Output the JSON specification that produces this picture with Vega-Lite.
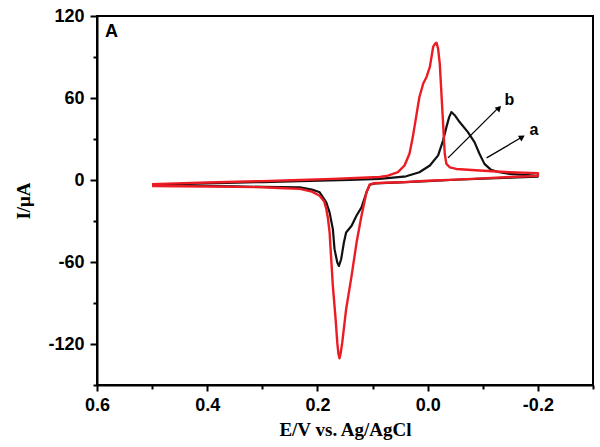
{
  "$schema": "https://vega.github.io/schema/vega-lite/v6.json",
  "width": 496,
  "height": 369,
  "autosize": {"type": "none"},
  "padding": {"left": 97, "top": 16, "right": 7, "bottom": 62},
  "background": "white",
  "config": {
    "view": {"stroke": "black", "strokeWidth": 2},
    "axis": {
      "grid": false,
      "domainColor": "black",
      "domainWidth": 2,
      "tickColor": "black",
      "tickWidth": 2,
      "labelFont": "Liberation Sans",
      "labelFontWeight": "bold",
      "labelFontSize": 18,
      "labelColor": "black",
      "labelFlush": false,
      "titleFont": "Liberation Serif",
      "titleFontWeight": "bold",
      "titleFontSize": 19,
      "titleColor": "black"
    }
  },
  "datasets": {
    "a": [
      {"i": 1, "E": 0.5, "I": -4}, {"i": 2, "E": 0.45, "I": -4.2}, {"i": 3, "E": 0.4, "I": -4.4}, {"i": 4, "E": 0.35, "I": -4.7}, {"i": 5, "E": 0.3, "I": -5}, {"i": 6, "E": 0.232, "I": -5.4}, {"i": 7, "E": 0.21, "I": -7}, {"i": 8, "E": 0.196, "I": -9}, {"i": 9, "E": 0.184, "I": -16.4}, {"i": 10, "E": 0.178, "I": -23.7}, {"i": 11, "E": 0.172, "I": -36}, {"i": 12, "E": 0.169, "I": -50.6}, {"i": 13, "E": 0.164, "I": -60.4}, {"i": 14, "E": 0.161, "I": -62.9}, {"i": 15, "E": 0.157, "I": -58}, {"i": 16, "E": 0.152, "I": -45.7}, {"i": 17, "E": 0.148, "I": -38.4}, {"i": 18, "E": 0.138, "I": -33.5}, {"i": 19, "E": 0.129, "I": -26}, {"i": 20, "E": 0.12, "I": -20}, {"i": 21, "E": 0.111, "I": -9}, {"i": 22, "E": 0.105, "I": -3.5}, {"i": 23, "E": 0.095, "I": -2.5}, {"i": 24, "E": 0.05, "I": -1.8}, {"i": 25, "E": 0.0, "I": -0.8}, {"i": 26, "E": -0.05, "I": 0.2}, {"i": 27, "E": -0.1, "I": 1}, {"i": 28, "E": -0.15, "I": 1.8}, {"i": 29, "E": -0.2, "I": 2.5},
      {"i": 30, "E": -0.2, "I": 3}, {"i": 31, "E": -0.149, "I": 4.5}, {"i": 32, "E": -0.13, "I": 5.7}, {"i": 33, "E": -0.115, "I": 7.4}, {"i": 34, "E": -0.103, "I": 11.8}, {"i": 35, "E": -0.094, "I": 19.2}, {"i": 36, "E": -0.085, "I": 27.7}, {"i": 37, "E": -0.073, "I": 35}, {"i": 38, "E": -0.058, "I": 42.4}, {"i": 39, "E": -0.05, "I": 47}, {"i": 40, "E": -0.043, "I": 49.7}, {"i": 41, "E": -0.039, "I": 46}, {"i": 42, "E": -0.034, "I": 38.7}, {"i": 43, "E": -0.028, "I": 29}, {"i": 44, "E": -0.019, "I": 18}, {"i": 45, "E": -0.004, "I": 10.6}, {"i": 46, "E": 0.015, "I": 5.7}, {"i": 47, "E": 0.039, "I": 2.7}, {"i": 48, "E": 0.087, "I": 0.8}, {"i": 49, "E": 0.141, "I": 0}, {"i": 50, "E": 0.232, "I": -0.8}, {"i": 51, "E": 0.3, "I": -1.5}, {"i": 52, "E": 0.4, "I": -2.5}, {"i": 53, "E": 0.5, "I": -3.5}
    ],
    "b": [
      {"i": 1, "E": 0.5, "I": -4.5}, {"i": 2, "E": 0.45, "I": -4.6}, {"i": 3, "E": 0.4, "I": -4.8}, {"i": 4, "E": 0.35, "I": -5}, {"i": 5, "E": 0.3, "I": -5.3}, {"i": 6, "E": 0.27, "I": -5.8}, {"i": 7, "E": 0.232, "I": -6.5}, {"i": 8, "E": 0.21, "I": -8.5}, {"i": 9, "E": 0.196, "I": -11.5}, {"i": 10, "E": 0.188, "I": -15.5}, {"i": 11, "E": 0.184, "I": -21}, {"i": 12, "E": 0.181, "I": -28}, {"i": 13, "E": 0.178, "I": -38}, {"i": 14, "E": 0.175, "I": -58}, {"i": 15, "E": 0.172, "I": -77.6}, {"i": 16, "E": 0.167, "I": -102}, {"i": 17, "E": 0.164, "I": -119}, {"i": 18, "E": 0.162, "I": -127}, {"i": 19, "E": 0.16, "I": -130.5}, {"i": 20, "E": 0.158, "I": -127}, {"i": 21, "E": 0.155, "I": -119}, {"i": 22, "E": 0.148, "I": -94.7}, {"i": 23, "E": 0.138, "I": -70}, {"i": 24, "E": 0.129, "I": -45.7}, {"i": 25, "E": 0.12, "I": -26}, {"i": 26, "E": 0.111, "I": -9}, {"i": 27, "E": 0.105, "I": -3.2}, {"i": 28, "E": 0.097, "I": -2.4}, {"i": 29, "E": 0.08, "I": -2}, {"i": 30, "E": 0.05, "I": -1.7}, {"i": 31, "E": 0.0, "I": -0.5}, {"i": 32, "E": -0.05, "I": 0.3}, {"i": 33, "E": -0.1, "I": 1.2}, {"i": 34, "E": -0.15, "I": 2.2}, {"i": 35, "E": -0.2, "I": 3},
      {"i": 36, "E": -0.2, "I": 5}, {"i": 37, "E": -0.149, "I": 5.7}, {"i": 38, "E": -0.094, "I": 6.9}, {"i": 39, "E": -0.052, "I": 8.1}, {"i": 40, "E": -0.04, "I": 9.3}, {"i": 41, "E": -0.034, "I": 11.8}, {"i": 42, "E": -0.031, "I": 19.2}, {"i": 43, "E": -0.027, "I": 48.5}, {"i": 44, "E": -0.022, "I": 85}, {"i": 45, "E": -0.019, "I": 96}, {"i": 46, "E": -0.016, "I": 100.4}, {"i": 47, "E": -0.013, "I": 99.5}, {"i": 48, "E": -0.01, "I": 97.5}, {"i": 49, "E": -0.004, "I": 82.8}, {"i": 50, "E": 0.002, "I": 75.4}, {"i": 51, "E": 0.008, "I": 70.6}, {"i": 52, "E": 0.015, "I": 60.7}, {"i": 53, "E": 0.021, "I": 46}, {"i": 54, "E": 0.027, "I": 31.4}, {"i": 55, "E": 0.033, "I": 19.2}, {"i": 56, "E": 0.042, "I": 10.6}, {"i": 57, "E": 0.054, "I": 5.7}, {"i": 58, "E": 0.072, "I": 3.2}, {"i": 59, "E": 0.087, "I": 2.2}, {"i": 60, "E": 0.12, "I": 1.6}, {"i": 61, "E": 0.172, "I": 0.8}, {"i": 62, "E": 0.232, "I": 0}, {"i": 63, "E": 0.3, "I": -0.8}, {"i": 64, "E": 0.4, "I": -1.8}, {"i": 65, "E": 0.5, "I": -3}
    ],
    "arrows": [
      {"x1": -0.037, "y1": 16.2, "x2": -0.13, "y2": 53.5},
      {"x1": -0.107, "y1": 16.2, "x2": -0.173, "y2": 31.8}
    ],
    "heads": [
      {"x": -0.1295, "y": 52.6, "ang": 45},
      {"x": -0.1715, "y": 31.4, "ang": 59}
    ],
    "labels": [
      {"x": 0.5855, "y": 104.8, "t": "A", "s": 18},
      {"x": -0.1395, "y": 54.6, "t": "b", "s": 16},
      {"x": -0.1848, "y": 32.6, "t": "a", "s": 16}
    ]
  },
  "layer": [
    {
      "data": {"name": "a"},
      "mark": {"type": "line", "color": "#111111", "strokeWidth": 2.2, "strokeJoin": "round"},
      "encoding": {
        "x": {"field": "E", "type": "quantitative",
          "scale": {"domain": [-0.3, 0.6], "reverse": true, "nice": false, "zero": false},
          "axis": {"orient": "bottom", "values": [0.6, 0.4, 0.2, 0, -0.2], "tickSize": 6, "labelPadding": 5,
            "labelExpr": "datum.value < -0.001 ? '-' + format(-datum.value, '.1f') : format(abs(datum.value), '.1f')",
            "title": "E/V vs. Ag/AgCl", "titlePadding": 6}},
        "y": {"field": "I", "type": "quantitative",
          "scale": {"domain": [-150, 120], "nice": false, "zero": false},
          "axis": {"orient": "left", "values": [-120, -60, 0, 60, 120], "tickSize": 7, "labelPadding": 6,
            "labelExpr": "'' + datum.value", "title": "I/μA", "titlePadding": 14}},
        "order": {"field": "i", "type": "quantitative"}
      }
    },
    {
      "data": {"name": "b"},
      "mark": {"type": "line", "color": "#ec1c24", "strokeWidth": 2.4, "strokeJoin": "round"},
      "encoding": {
        "x": {"field": "E", "type": "quantitative",
          "scale": {"domain": [-0.3, 0.6], "reverse": true, "nice": false, "zero": false}, "axis": null},
        "y": {"field": "I", "type": "quantitative",
          "scale": {"domain": [-150, 120], "nice": false, "zero": false}, "axis": null},
        "order": {"field": "i", "type": "quantitative"}
      }
    },
    {
      "data": {"name": "a"},
      "mark": {"type": "point", "opacity": 0},
      "encoding": {
        "x": {"field": "E", "type": "quantitative",
          "scale": {"domain": [-0.3, 0.6], "reverse": true, "nice": false, "zero": false},
          "axis": {"orient": "bottom", "values": [0.5, 0.3, 0.1, -0.1, -0.3], "tickSize": 4, "labels": false, "domain": false, "title": null}},
        "y": {"field": "I", "type": "quantitative",
          "scale": {"domain": [-150, 120], "nice": false, "zero": false},
          "axis": {"orient": "left", "values": [90, 30, -30, -90, -150], "tickSize": 4, "labels": false, "domain": false, "title": null}}
      }
    },
    {
      "data": {"name": "arrows"},
      "mark": {"type": "rule", "color": "black", "strokeWidth": 1.3},
      "encoding": {
        "x": {"field": "x1", "type": "quantitative", "scale": {"domain": [-0.3, 0.6], "reverse": true, "nice": false, "zero": false}, "axis": null},
        "y": {"field": "y1", "type": "quantitative", "scale": {"domain": [-150, 120], "nice": false, "zero": false}, "axis": null},
        "x2": {"field": "x2"},
        "y2": {"field": "y2"}
      }
    },
    {
      "data": {"name": "heads"},
      "mark": {"type": "point", "shape": "triangle-up", "filled": true, "color": "black", "size": 45, "opacity": 1},
      "encoding": {
        "x": {"field": "x", "type": "quantitative", "scale": {"domain": [-0.3, 0.6], "reverse": true, "nice": false, "zero": false}, "axis": null},
        "y": {"field": "y", "type": "quantitative", "scale": {"domain": [-150, 120], "nice": false, "zero": false}, "axis": null},
        "angle": {"field": "ang", "type": "quantitative", "scale": null}
      }
    },
    {
      "data": {"name": "labels"},
      "mark": {"type": "text", "font": "Liberation Sans", "fontWeight": "bold", "align": "left", "baseline": "alphabetic", "color": "black"},
      "encoding": {
        "x": {"field": "x", "type": "quantitative", "scale": {"domain": [-0.3, 0.6], "reverse": true, "nice": false, "zero": false}, "axis": null},
        "y": {"field": "y", "type": "quantitative", "scale": {"domain": [-150, 120], "nice": false, "zero": false}, "axis": null},
        "text": {"field": "t"},
        "size": {"field": "s", "type": "quantitative", "scale": null}
      }
    }
  ],
  "resolve": {"axis": {"x": "independent", "y": "independent"}}
}
